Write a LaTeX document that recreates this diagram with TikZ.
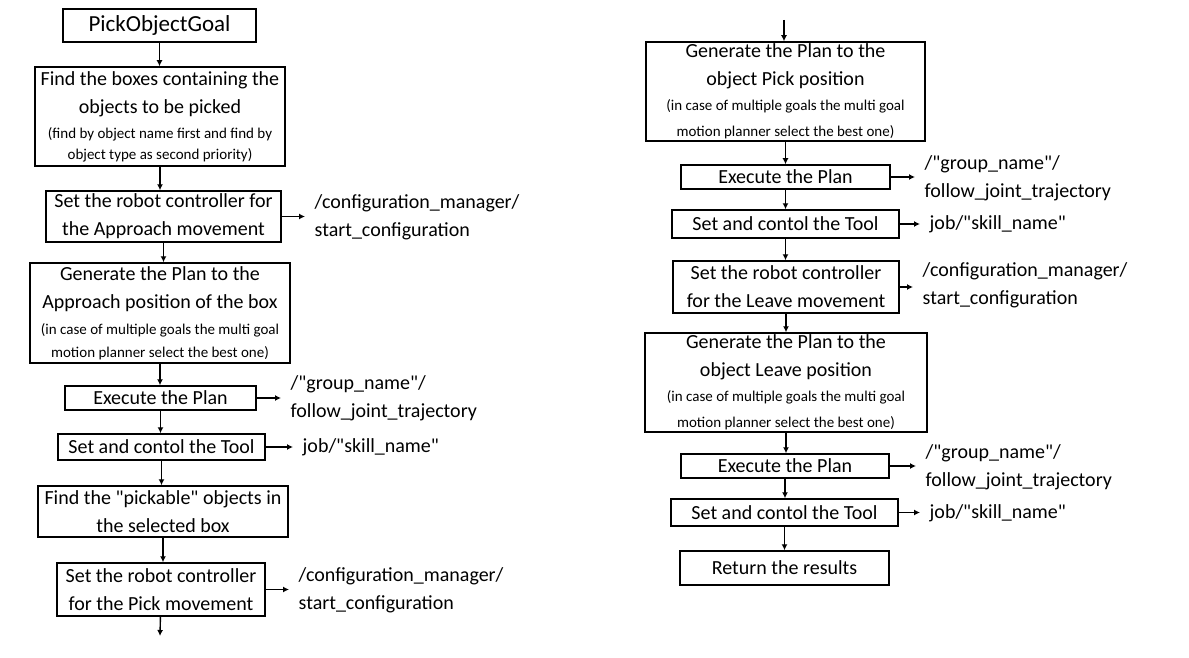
\documentclass[tikz,border=0pt]{standalone}
\usepackage{fontspec}
\setmainfont{Carlito}[Ligatures=TeXOff]
\usetikzlibrary{arrows.meta}
\newcommand\sml{\fontsize{7.5}{10}\selectfont}
\begin{document}
\begin{tikzpicture}[x=0.5pt,y=-0.5pt,
  box/.style={draw,line width=0.75pt,inner sep=0pt,align=center,font=\fontsize{10}{14}\selectfont},
  topic/.style={anchor=west,align=left,inner sep=4.5pt,font=\fontsize{10}{14}\selectfont},
  >={Latex[length=3pt,width=3pt]}, line width=0.7pt]
\useasboundingbox (0,0) rectangle (1189,658);
% left column
\node[box,minimum width=96.5pt,minimum height=16.5pt,font=\fontsize{11.5}{14}\selectfont] (goal) at (159.5,25.5) {PickObjectGoal};
\node[box,minimum width=125pt,minimum height=49.5pt] (find) at (160,116.5)
  {Find the boxes containing the\\objects to be picked\\[-1.5pt]
   \sml (find by object name first and find by\\[-3.5pt]\sml object type as second priority)};
\node[box,minimum width=117.5pt,minimum height=25.5pt] (setA) at (163.5,216.5)
  {Set the robot controller for\\the Approach movement};
\node[box,minimum width=130pt,minimum height=50pt] (genA) at (160,313)
  {Generate the Plan to the\\Approach position of the box\\[-1pt]
   \sml (in case of multiple goals the multi goal\\[-2.5pt]\sml motion planner select the best one)};
\node[box,minimum width=95.5pt,minimum height=12pt] (exec1) at (160.5,398) {Execute the Plan};
\node[box,minimum width=103.5pt,minimum height=13pt] (tool1) at (161.5,447) {Set and contol the Tool};
\node[box,minimum width=125pt,minimum height=25.5pt] (pick) at (163,511.5)
  {Find the "pickable" objects in\\the selected box};
\node[box,minimum width=104pt,minimum height=26.5pt] (setP) at (161,589.5)
  {Set the robot controller\\for the Pick movement};
\coordinate (endL) at (160,636);
% right column
\coordinate (startR) at (784,20);
\node[box,minimum width=139.5pt,minimum height=49.5pt] (genP) at (785.5,91.5)
  {Generate the Plan to the\\object Pick position\\[-1.5pt]
   \sml (in case of multiple goals the multi goal\\[-1pt]\sml motion planner select the best one)};
\node[box,minimum width=104.5pt,minimum height=12pt] (exec2) at (785.5,177) {Execute the Plan};
\node[box,minimum width=113.5pt,minimum height=14pt] (tool2) at (785.5,224) {Set and contol the Tool};
\node[box,minimum width=113pt,minimum height=26pt] (setL) at (786,287)
  {Set the robot controller\\for the Leave movement};
\node[box,minimum width=141pt,minimum height=49.5pt] (genL) at (786,382.5)
  {Generate the Plan to the\\object Leave position\\[-1.5pt]
   \sml (in case of multiple goals the multi goal\\[-1pt]\sml motion planner select the best one)};
\node[box,minimum width=104pt,minimum height=12pt] (exec3) at (785,466) {Execute the Plan};
\node[box,minimum width=113.5pt,minimum height=13.5pt] (tool3) at (784.5,512.5) {Set and contol the Tool};
\node[box,minimum width=104.5pt,minimum height=17pt] (ret) at (784.5,568) {Return the results};
% topics
\node[topic] (cfgA) at (305,217) {/configuration\_manager/\\start\_configuration};
\node[topic] (grp1) at (281,398) {/"group\_name"/\\follow\_joint\_trajectory};
\node[topic] (job1) at (293,447) {job/"skill\_name"};
\node[topic] (cfgP) at (289,590) {/configuration\_manager/\\start\_configuration};
\node[topic] (grp2) at (915,178) {/"group\_name"/\\follow\_joint\_trajectory};
\node[topic] (job2) at (920,224) {job/"skill\_name"};
\node[topic] (cfgL) at (913,285) {/configuration\_manager/\\start\_configuration};
\node[topic] (grp3) at (916,467) {/"group\_name"/\\follow\_joint\_trajectory};
\node[topic] (job3) at (920,513) {job/"skill\_name"};
% arrows
\foreach \a/\b in {goal/find,find/setA,setA/genA,genA/exec1,exec1/tool1,tool1/pick,pick/setP,
  genP/exec2,exec2/tool2,tool2/setL,setL/genL,genL/exec3,exec3/tool3,tool3/ret}
  \draw[->] (\a) -- (\a |- \b.north);
\draw[->] (setP) -- (endL);
\draw[->] (startR) -- (startR |- genP.north);
\foreach \a/\b in {setA/cfgA,exec1/grp1,tool1/job1,setP/cfgP,exec2/grp2,tool2/job2,setL/cfgL,exec3/grp3,tool3/job3}
  \draw[->] (\a.east) -- (\a.east -| \b.west);
\end{tikzpicture}
\end{document}
